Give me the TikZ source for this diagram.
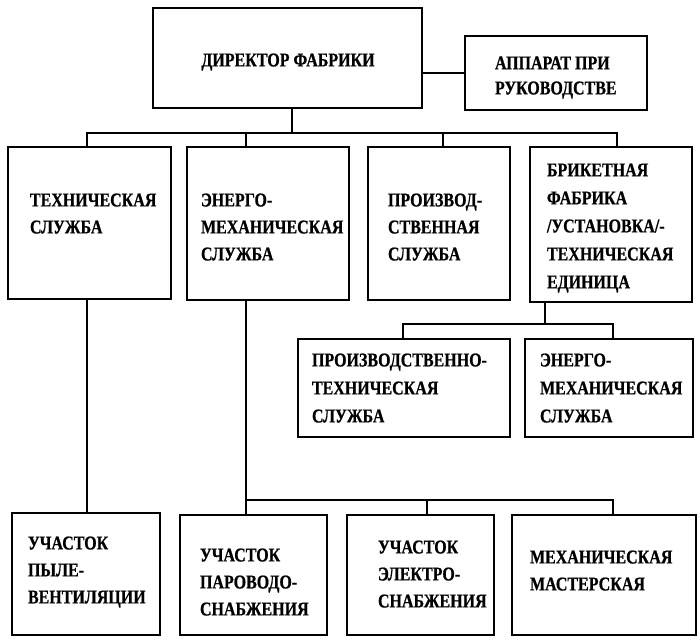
\documentclass[tikz,border=0pt]{standalone}
\usepackage{fontspec}
\setmainfont{Liberation Serif}[FakeStretch=0.82, BoldFeatures={FakeBold=0.8}]
\tikzset{
  box/.style={draw, line width=2.6pt, inner sep=0pt, outer sep=0pt, anchor=north west},
  lbl/.style={inner sep=0pt, outer sep=0pt, anchor=north west, align=left, font=\bfseries\fontsize{19.5}{27}\selectfont},
  wire/.style={line width=2.6pt}
}
\begin{document}
\begin{tikzpicture}[x=1pt,y=-1pt]
\useasboundingbox (0,0) rectangle (700,639);
% boxes
\node[box, minimum width=269pt, minimum height=100pt] (dir) at (153,8) {};
\node[box, minimum width=182pt, minimum height=74pt] (app) at (465,36) {};
\node[box, minimum width=163pt, minimum height=152pt] (t1) at (8,147) {};
\node[box, minimum width=162pt, minimum height=153pt] (t2) at (187,147) {};
\node[box, minimum width=142pt, minimum height=153pt] (t3) at (368,147) {};
\node[box, minimum width=162pt, minimum height=155pt] (t4) at (530,147) {};
\node[box, minimum width=212pt, minimum height=98pt] (s1) at (298,339) {};
\node[box, minimum width=168pt, minimum height=98pt] (s2) at (525,339) {};
\node[box, minimum width=148pt, minimum height=122pt] (b1) at (12,513) {};
\node[box, minimum width=147pt, minimum height=120pt] (b2) at (180,515) {};
\node[box, minimum width=147pt, minimum height=120pt] (b3) at (347,515) {};
\node[box, minimum width=184pt, minimum height=120pt] (b4) at (512,515) {};
% texts
\node[lbl, anchor=north] (dirtxt) at (288,53.5) {ДИРЕКТОР ФАБРИКИ};
\node[lbl, font=\bfseries\fontsize{19.5}{25}\selectfont] (apptxt) at (495,56.5) {АППАРАТ ПРИ\\РУКОВОДСТВЕ};
\node[lbl] (t1txt) at (30,193.5) {ТЕХНИЧЕСКАЯ\\СЛУЖБА};
\node[lbl] (t2txt) at (201,193.5) {ЭНЕРГО-\\МЕХАНИЧЕСКАЯ\\СЛУЖБА};
\node[lbl] (t3txt) at (388,193.5) {ПРОИЗВОД-\\СТВЕННАЯ\\СЛУЖБА};
\node[lbl, font=\bfseries\fontsize{19.5}{28}\selectfont] (t4txt) at (547,163.5) {БРИКЕТНАЯ\\ФАБРИКА\\/УСТАНОВКА/-\\ТЕХНИЧЕСКАЯ\\ЕДИНИЦА};
\node[lbl, font=\bfseries\fontsize{19.5}{28}\selectfont] (s1txt) at (312,353.5) {ПРОИЗВОДСТВЕННО-\\ТЕХНИЧЕСКАЯ\\СЛУЖБА};
\node[lbl, font=\bfseries\fontsize{19.5}{28}\selectfont] (s2txt) at (540,353.5) {ЭНЕРГО-\\МЕХАНИЧЕСКАЯ\\СЛУЖБА};
\node[lbl] (b1txt) at (28,536.5) {УЧАСТОК\\ПЫЛЕ-\\ВЕНТИЛЯЦИИ};
\node[lbl] (b2txt) at (200,548.5) {УЧАСТОК\\ПАРОВОДО-\\СНАБЖЕНИЯ};
\node[lbl] (b3txt) at (378,540.5) {УЧАСТОК\\ЭЛЕКТРО-\\СНАБЖЕНИЯ};
\node[lbl] (b4txt) at (530,550.5) {МЕХАНИЧЕСКАЯ\\МАСТЕРСКАЯ};
% connectors
\draw[wire] (app.west) -- (app.west -| dir.east);
\coordinate (j0) at (292,133);
\coordinate (jL) at (87,133);
\coordinate (j2) at (246,133);
\coordinate (j3) at (443,133);
\coordinate (jR) at (617,133);
\draw[wire] (dir.south -| j0) -- (j0);
\draw[wire] (t1.north -| jL) -- (jL) -- (jR) -- (t4.north -| jR);
\draw[wire] (j2) -- (t2.north -| j2);
\draw[wire] (j3) -- (t3.north -| j3);
\draw[wire] (t1.south -| jL) -- (b1.north -| jL);
\coordinate (m0) at (545,324);
\coordinate (m1) at (403,324);
\coordinate (m2) at (613,324);
\draw[wire] (t4.south -| m0) -- (m0);
\draw[wire] (s1.north -| m1) -- (m1) -- (m2) -- (s2.north -| m2);
\coordinate (k2) at (246,500);
\coordinate (k3) at (427,500);
\coordinate (k4) at (613,500);
\draw[wire] (t2.south -| k2) -- (k2) -- (k4) -- (b4.north -| k4);
\draw[wire] (k2) -- (b2.north -| k2);
\draw[wire] (k3) -- (b3.north -| k3);
\end{tikzpicture}
\end{document}
